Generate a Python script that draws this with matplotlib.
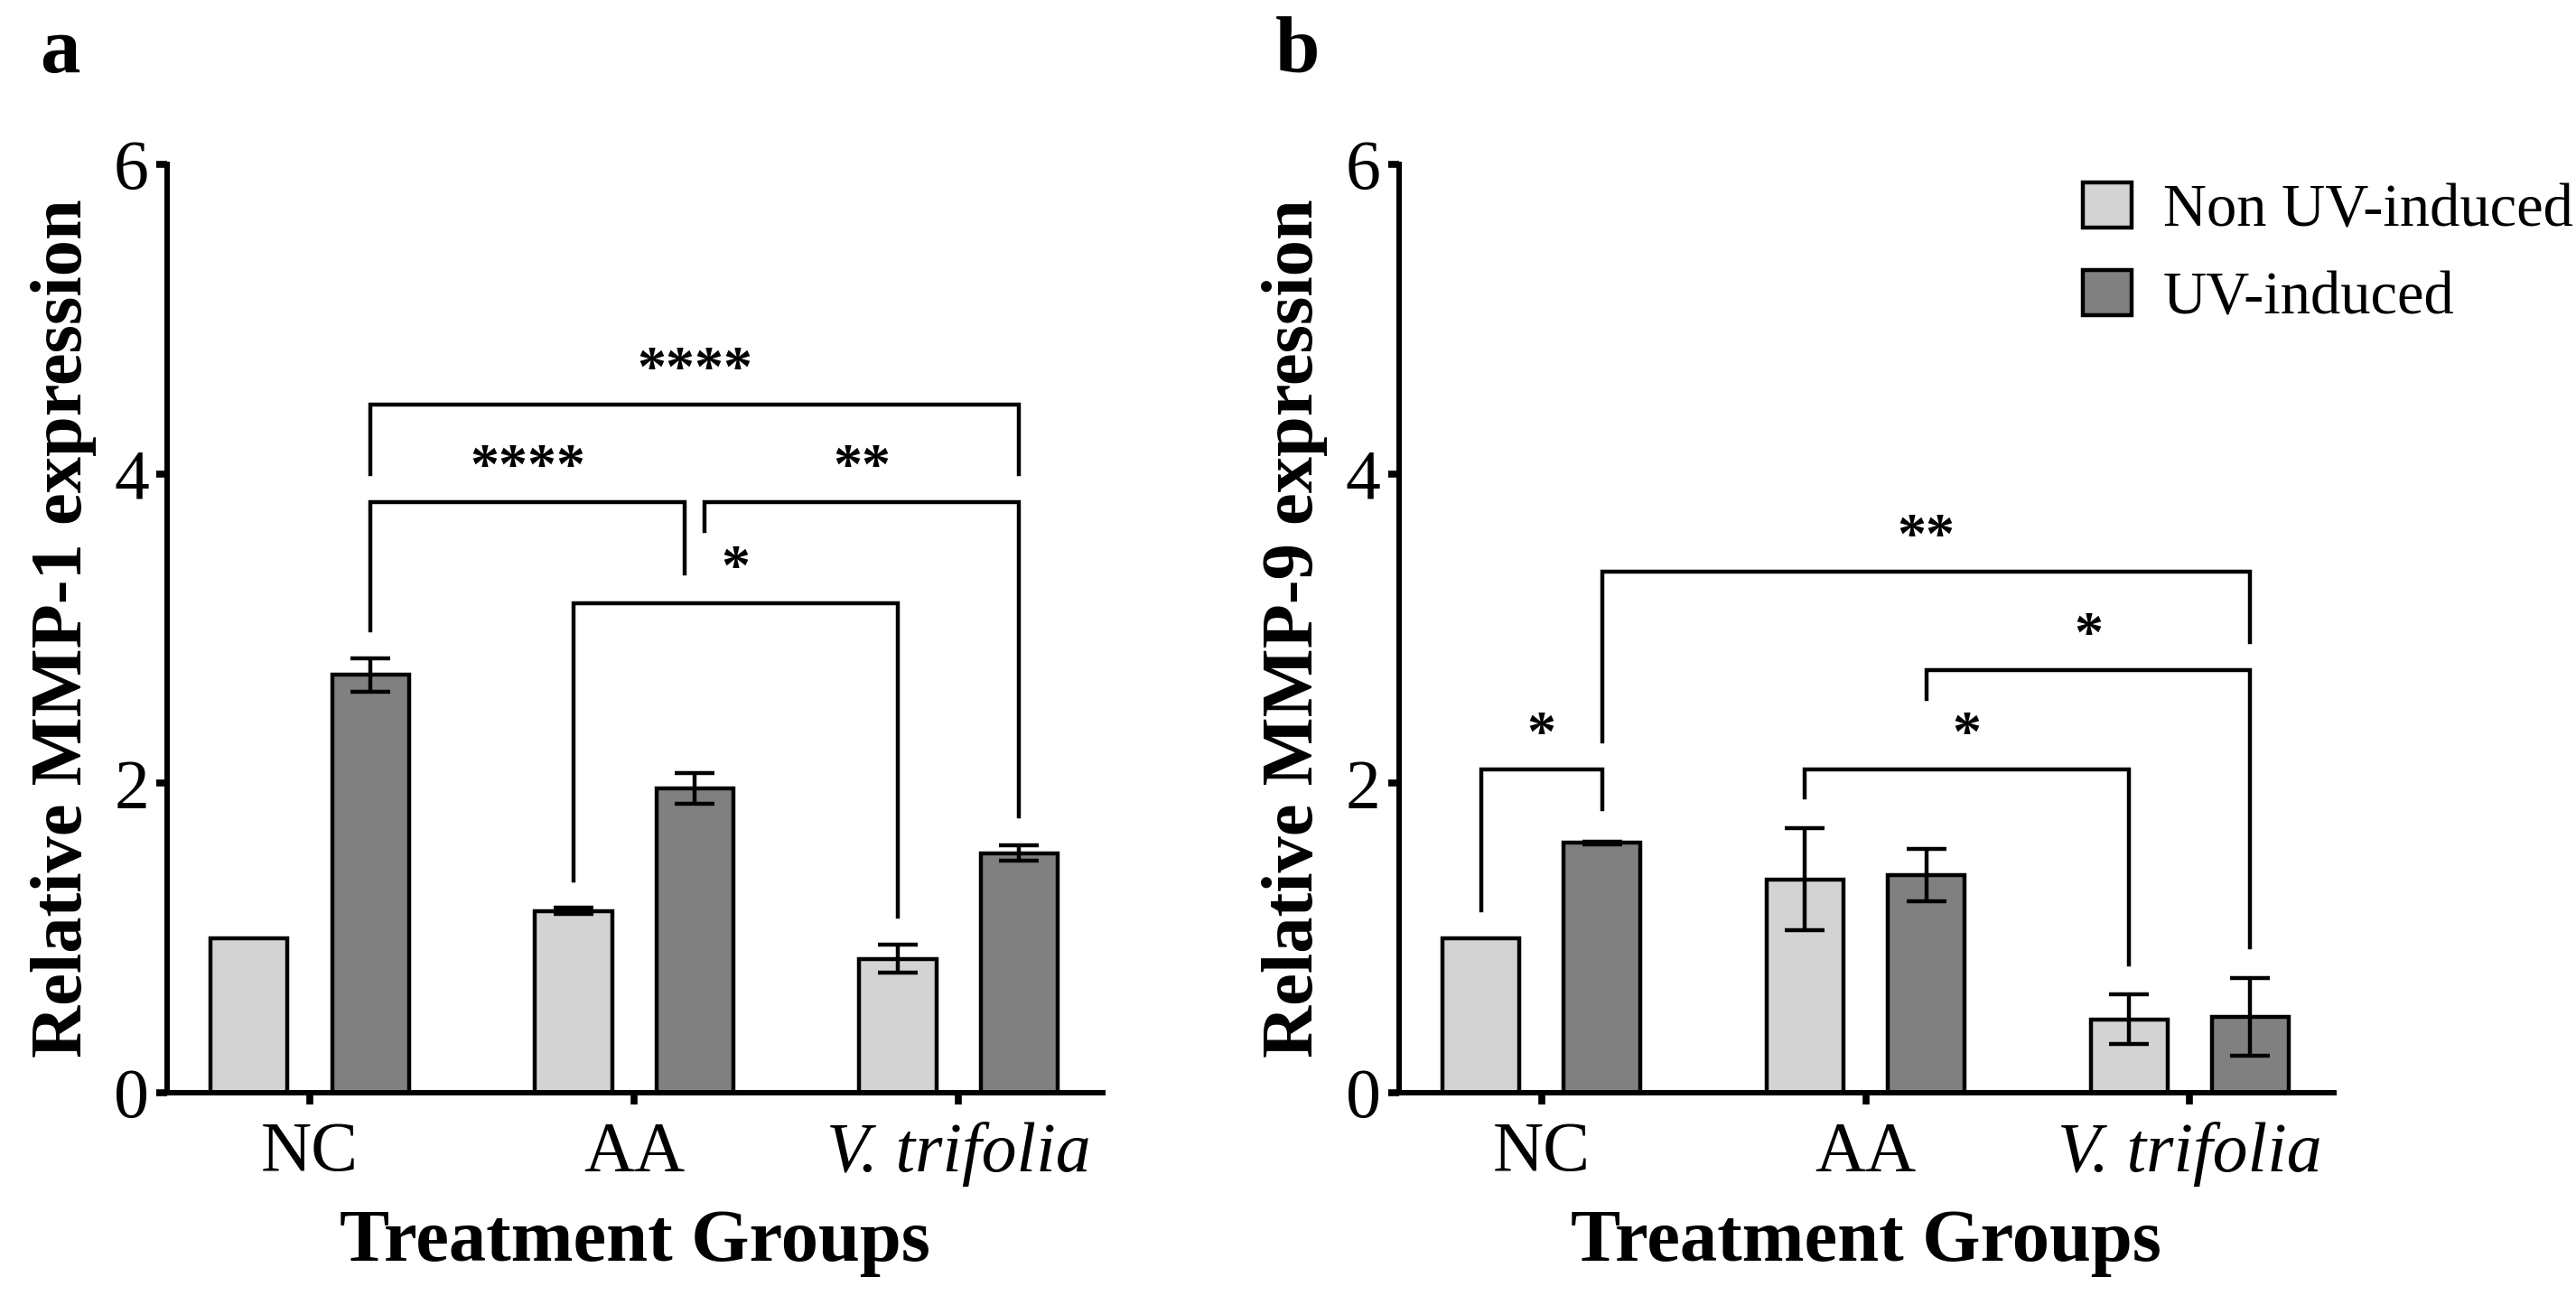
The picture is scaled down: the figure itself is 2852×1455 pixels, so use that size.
import matplotlib
matplotlib.use("Agg")
import matplotlib.pyplot as plt
import numpy as np

# ---------------------------------------------------------------------------
# Data
# ---------------------------------------------------------------------------
groups = ["NC", "AA", "V. trifolia"]
series = ["Non UV-induced", "UV-induced"]

mmp1_non = [1.00, 1.175, 0.866]
mmp1_non_err = [0.0, 0.02, 0.09]
mmp1_uv = [2.70, 1.966, 1.549]
mmp1_uv_err = [0.11, 0.10, 0.05]

mmp9_non = [1.00, 1.38, 0.474]
mmp9_non_err = [0.0, 0.33, 0.16]
mmp9_uv = [1.615, 1.405, 0.49]
mmp9_uv_err = [0.01, 0.17, 0.25]

# brackets: (left bar, y left end, right bar, y right end, y top, label)
# a bar is (group index, 0 light / 1 dark, small nudge)
mmp1_brackets = [
    ((0, 1, 0), 4.00, (2, 1, 0), 4.00, 4.45, "****"),
    ((0, 1, 0), 2.99, (1, 1, -0.03), 3.356, 3.817, "****"),
    ((1, 1, 0.03), 3.63, (2, 1, 0), 1.787, 3.817, "**"),
    ((1, 0, 0), 1.370, (2, 0, 0), 1.137, 3.165, "*"),
]
mmp9_brackets = [
    ((0, 1, 0), 2.27, (2, 1, 0), 2.91, 3.37, "**"),
    ((1, 1, 0), 2.545, (2, 1, 0), 0.94, 2.73, "*"),
    ((1, 0, 0), 1.91, (2, 0, 0), 0.83, 2.087, "*"),
    ((0, 0, 0), 1.18, (0, 1, 0), 1.83, 2.087, "*"),
]

# ---------------------------------------------------------------------------
# Style
# ---------------------------------------------------------------------------
LIGHT = "#d3d3d3"
DARK = "#808080"
OFFSET = 0.187
WIDTH = 0.237
SERIF = "Liberation Serif"
LW = 3.2

plt.rcParams.update(
    {
        "font.family": SERIF,
        "axes.linewidth": 4.3,
        "xtick.major.width": 5.5,
        "ytick.major.width": 5.5,
        "xtick.major.size": 9,
        "ytick.major.size": 8.5,
    }
)


def bar_x(spec):
    g, b, nudge = spec
    return g + (OFFSET if b else -OFFSET) + nudge


def draw_panel(ax, non, non_err, uv, uv_err, brackets, ylabel):
    x = np.arange(len(groups))
    ax.bar(x - OFFSET, non, WIDTH, color=LIGHT, edgecolor="black",
           linewidth=LW, zorder=2, label=series[0])
    ax.bar(x + OFFSET, uv, WIDTH, color=DARK, edgecolor="black",
           linewidth=LW, zorder=2, label=series[1])
    for xs, vals, errs in ((x - OFFSET, non, non_err), (x + OFFSET, uv, uv_err)):
        for xi, v, e in zip(xs, vals, errs):
            if e > 0:
                ax.errorbar(xi, v, yerr=e, fmt="none", ecolor="black",
                            elinewidth=LW, capsize=16, capthick=LW, zorder=3)

    for left, yl, right, yr, ytop, label in brackets:
        xl, xr = bar_x(left), bar_x(right)
        ax.plot([xl, xl, xr, xr], [yl, ytop, ytop, yr], color="black",
                lw=LW, solid_joinstyle="miter", zorder=4, clip_on=False)
        ax.text((xl + xr) / 2, ytop + 0.21, label, ha="center", va="center",
                fontsize=46, fontweight="bold", family=SERIF)

    ax.set_xlim(-0.44, 2.445)
    ax.set_ylim(0, 6)
    ax.set_yticks([0, 2, 4, 6])
    ax.set_xticks(x)
    ax.set_xticklabels(groups, fontsize=56)
    ax.get_xticklabels()[2].set_style("italic")
    ax.tick_params(axis="y", labelsize=56, pad=6)
    ax.tick_params(axis="x", pad=14)
    for side in ("top", "right"):
        ax.spines[side].set_visible(False)
    ax.set_ylabel(ylabel, fontsize=58, fontweight="bold", labelpad=14)
    ax.set_xlabel("Treatment Groups", fontsize=59.5, fontweight="bold", labelpad=18)


fig = plt.figure(figsize=(28.52, 14.55), dpi=100)
ax_a = fig.add_axes([0.0649, 0.1684, 0.3632, 0.7065])
ax_b = fig.add_axes([0.5431, 0.1684, 0.3629, 0.7065])

draw_panel(ax_a, mmp1_non, mmp1_non_err, mmp1_uv, mmp1_uv_err,
           mmp1_brackets, "Relative MMP-1 expression")
draw_panel(ax_b, mmp9_non, mmp9_non_err, mmp9_uv, mmp9_uv_err,
           mmp9_brackets, "Relative MMP-9 expression")

leg = ax_b.legend(loc="upper left", bbox_to_anchor=(0.8085, 0.861),
                  bbox_transform=fig.transFigure, frameon=False, fontsize=48,
                  handlelength=0.81, handleheight=0.77, handletextpad=0.52,
                  labelspacing=0.52, borderpad=0, borderaxespad=0)
for patch in leg.get_patches():
    patch.set_linewidth(LW)

fig.text(0.0154, 0.945, "a", fontsize=64, fontweight="bold", va="baseline")
fig.text(0.495, 0.945, "b", fontsize=64, fontweight="bold", va="baseline")

fig.savefig("out.png", dpi=100)
